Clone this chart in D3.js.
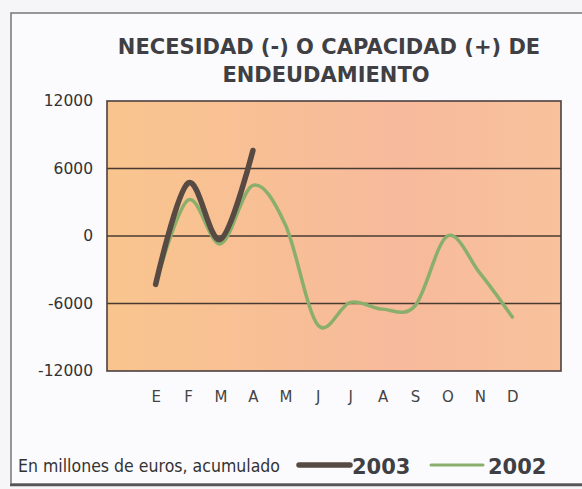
<!DOCTYPE html>
<html>
<head>
<meta charset="utf-8">
<script src="https://cdn.jsdelivr.net/npm/d3@7"></script>
<style>
  body { margin: 0; background: #f6f6f8; }
  svg { display: block; }
</style>
</head>
<body>
<div id="chart"></div>
<script>
// months (Spanish initials)
var months = ["E", "F", "M", "A", "M2", "J", "J2", "A2", "S", "O", "N", "D"];
var monthLabels = ["E", "F", "M", "A", "M", "J", "J", "A", "S", "O", "N", "D"];
var yTicks = [-12000, -6000, 0, 6000, 12000];

// values (millones de euros, acumulado)
var v2003 = [-4300, 4700, -300, 7600];
var v2002 = [-4300, 3200, -700, 4500, 1000, -7900, -5900, -6500, -6200, 0, -3300, -7200];

var W = 582, H = 489;
var svg = d3.select("#chart").append("svg")
  .attr("width", W)
  .attr("height", H);

// frame
svg.append("rect")
  .attr("x", 11).attr("y", 13)
  .attr("width", 600).attr("height", 471)
  .attr("fill", "#fbfbfd")
  .attr("stroke", "#777").attr("stroke-width", 1.5);
svg.append("line")
  .attr("x1", 10).attr("x2", 582).attr("y1", 485).attr("y2", 485)
  .attr("stroke", "#555").attr("stroke-width", 2.5);

var defs = svg.append("defs");
var grad = defs.append("linearGradient").attr("id", "bg")
  .attr("x1", "0%").attr("x2", "100%").attr("y1", "0%").attr("y2", "0%");
grad.append("stop").attr("offset", "0%").attr("stop-color", "#f9c58e");
grad.append("stop").attr("offset", "65%").attr("stop-color", "#f7ba9c");
grad.append("stop").attr("offset", "100%").attr("stop-color", "#f8c29c");

var pLeft = 107, pRight = 561, pTop = 101, pBottom = 371;

var x = d3.scalePoint().domain(months).range([pLeft, pRight]).padding(1.5);
var y = d3.scaleLinear().domain([-12000, 12000]).range([pBottom, pTop]);

svg.append("rect")
  .attr("x", pLeft).attr("y", pTop)
  .attr("width", pRight - pLeft).attr("height", pBottom - pTop)
  .attr("fill", "url(#bg)");

// grid
svg.selectAll(".grid").data(yTicks.slice(1, 4)).enter().append("line")
  .attr("x1", pLeft).attr("x2", pRight)
  .attr("y1", function(d) { return y(d); })
  .attr("y2", function(d) { return y(d); })
  .attr("stroke", "#4a3b32").attr("stroke-width", 1.6);

svg.append("rect")
  .attr("x", pLeft).attr("y", pTop)
  .attr("width", pRight - pLeft).attr("height", pBottom - pTop)
  .attr("fill", "none").attr("stroke", "#4a4040").attr("stroke-width", 1.6);

// y axis labels
var yAxis = d3.axisLeft(y).tickValues(yTicks).tickSize(0).tickPadding(14)
  .tickFormat(function(d) { return String(d); });
var ya = svg.append("g").attr("transform", "translate(" + pLeft + ",0)").call(yAxis);
ya.select(".domain").remove();
ya.selectAll("text")
  .attr("fill", "#333")
  .style("font-family", "'DejaVu Sans', sans-serif")
  .style("font-size", "15.5px");

// x axis labels
var xAxis = d3.axisBottom(x).tickSize(0).tickPadding(20)
  .tickFormat(function(d, i) { return monthLabels[i]; });
var xa = svg.append("g").attr("transform", "translate(0," + pBottom + ")").call(xAxis);
xa.select(".domain").remove();
xa.selectAll("text")
  .attr("fill", "#444")
  .style("font-family", "'DejaVu Sans', sans-serif")
  .style("font-size", "15px");

var line = d3.line()
  .x(function(d, i) { return x(months[i]); })
  .y(function(d) { return y(d); })
  .curve(d3.curveCardinal.tension(0));

svg.append("path").datum(v2002)
  .attr("d", line)
  .attr("fill", "none")
  .attr("stroke", "#8aaf6c")
  .attr("stroke-width", 3.5)
  .attr("stroke-linecap", "round");

svg.append("path").datum(v2003)
  .attr("d", line)
  .attr("fill", "none")
  .attr("stroke", "#574a43")
  .attr("stroke-width", 5.5)
  .attr("stroke-linecap", "round");

// title
var title = svg.append("text")
  .attr("text-anchor", "middle")
  .attr("fill", "#3f3f44")
  .style("font-family", "'DejaVu Sans', sans-serif")
  .style("font-weight", "bold")
  .style("font-size", "21px");
title.append("tspan").attr("x", 329).attr("y", 54).text("NECESIDAD (-) O CAPACIDAD (+) DE");
title.append("tspan").attr("x", 326).attr("y", 82).text("ENDEUDAMIENTO");

// legend
svg.append("text")
  .attr("x", 18).attr("y", 472)
  .attr("fill", "#333")
  .style("font-family", "'DejaVu Sans', sans-serif")
  .style("font-size", "17px")
  .attr("textLength", 262)
  .attr("lengthAdjust", "spacingAndGlyphs")
  .text("En millones de euros, acumulado");

var legend = [
  {label: "2003", color: "#574a43", w: 5.5, x0: 299, x1: 350, tx: 352},
  {label: "2002", color: "#8aaf6c", w: 3, x0: 431, x1: 483, tx: 488}
];
legend.forEach(function(l) {
  svg.append("line")
    .attr("x1", l.x0).attr("x2", l.x1).attr("y1", 465).attr("y2", 465)
    .attr("stroke", l.color).attr("stroke-width", l.w).attr("stroke-linecap", "round");
  svg.append("text")
    .attr("x", l.tx).attr("y", 474)
    .attr("fill", "#3f3f44")
    .style("font-family", "'DejaVu Sans', sans-serif")
    .style("font-weight", "bold")
    .style("font-size", "21px")
    .text(l.label);
});
</script>
</body>
</html>
